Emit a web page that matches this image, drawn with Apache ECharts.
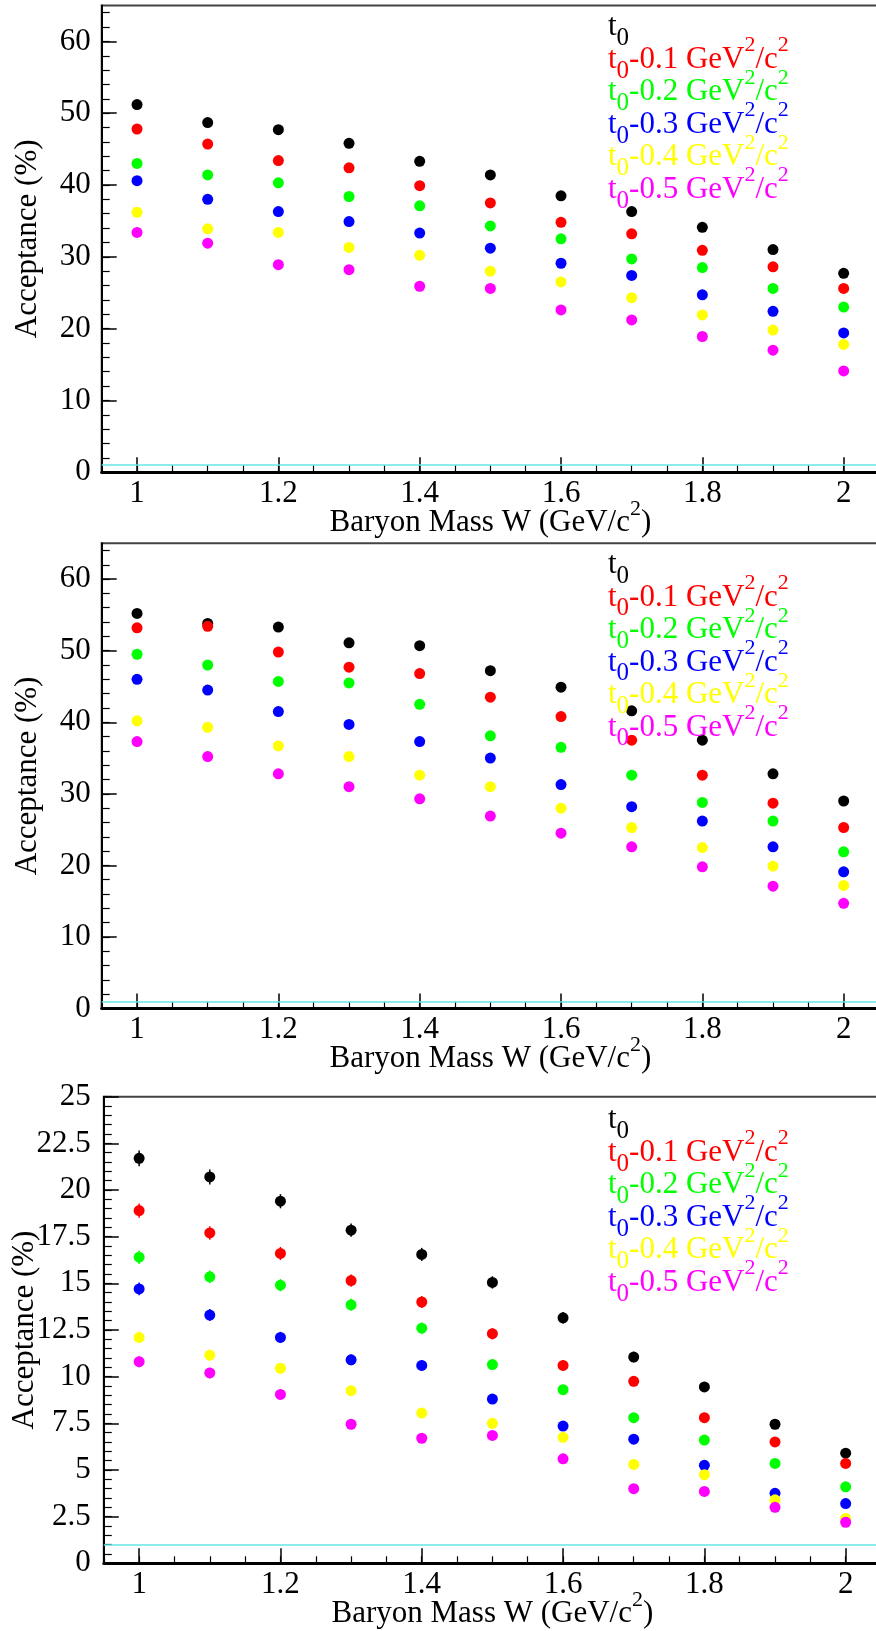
<!DOCTYPE html>
<html>
<head>
<meta charset="utf-8">
<script src="https://cdn.jsdelivr.net/npm/echarts@6/dist/echarts.min.js"></script>
<style>
  html, body { margin: 0; padding: 0; background: #ffffff; }
  .panel { position: absolute; left: 0; width: 876px; }
</style>
</head>
<body>
<div id="p1" class="panel" style="top:0px;height:560px"></div>
<div id="p2" class="panel" style="top:520px;height:580px"></div>
<div id="p3" class="panel" style="top:1060px;height:571px"></div>
<script>
// Baryon mass W bins (GeV/c^2)
const W = [1.0, 1.1, 1.2, 1.3, 1.4, 1.5, 1.6, 1.7, 1.8, 1.9, 2.0];

// t-shift of each series (GeV^2/c^2); null = t0 itself
const tShift = [null, '0.1', '0.2', '0.3', '0.4', '0.5'];
const seriesNames = ['t0', 't0-0.1', 't0-0.2', 't0-0.3', 't0-0.4', 't0-0.5'];
const seriesColors = ['#000000', '#ff0000', '#00ff00', '#0000ff', '#ffff00', '#ff00ff'];

// Axis tick labels
const xTickValues = [1, 1.2, 1.4, 1.6, 1.8, 2];
const yTickValuesTop = [0, 10, 20, 30, 40, 50, 60];
const yTickValuesBottom = [0, 2.5, 5, 7.5, 10, 12.5, 15, 17.5, 20, 22.5, 25];

// Reference level drawn as a horizontal line (%)
const referenceLevel = 1;

// Panel 1: acceptance (%)
const accA_t0  = [51.2, 48.7, 47.7, 45.8, 43.3, 41.4, 38.5, 36.3, 34.1, 31.0, 27.7];
const accA_t01 = [47.8, 45.7, 43.4, 42.4, 39.9, 37.5, 34.8, 33.2, 30.9, 28.6, 25.6];
const accA_t02 = [43.0, 41.4, 40.3, 38.4, 37.1, 34.3, 32.5, 29.7, 28.5, 25.6, 23.0];
const accA_t03 = [40.6, 38.0, 36.3, 34.9, 33.3, 31.2, 29.1, 27.4, 24.7, 22.4, 19.4];
const accA_t04 = [36.2, 33.9, 33.4, 31.3, 30.2, 28.0, 26.5, 24.3, 21.9, 19.8, 17.8];
const accA_t05 = [33.4, 31.9, 28.9, 28.2, 25.9, 25.6, 22.6, 21.2, 18.9, 17.0, 14.1];

// Panel 2: acceptance (%)
const accB_t0  = [55.2, 53.8, 53.3, 51.1, 50.7, 47.2, 44.9, 41.6, 37.5, 32.8, 29.0];
const accB_t01 = [53.2, 53.4, 49.8, 47.7, 46.8, 43.5, 40.8, 37.5, 32.6, 28.7, 25.3];
const accB_t02 = [49.5, 48.0, 45.7, 45.5, 42.5, 38.1, 36.5, 32.6, 28.8, 26.2, 21.9];
const accB_t03 = [46.0, 44.5, 41.5, 39.7, 37.3, 35.0, 31.3, 28.2, 26.2, 22.6, 19.1];
const accB_t04 = [40.2, 39.3, 36.7, 35.2, 32.6, 31.0, 28.0, 25.3, 22.5, 19.9, 17.2];
const accB_t05 = [37.3, 35.2, 32.8, 31.0, 29.3, 26.9, 24.5, 22.6, 19.8, 17.1, 14.7];

// Panel 3: acceptance (%) and its uncertainty
const accC_t0  = [21.7, 20.7, 19.4, 17.85, 16.55, 15.05, 13.15, 11.05, 9.45, 7.45, 5.9];
const accC_t01 = [18.9, 17.7, 16.6, 15.15, 14.0, 12.3, 10.6, 9.75, 7.8, 6.5, 5.35];
const accC_t02 = [16.4, 15.35, 14.9, 13.85, 12.6, 10.65, 9.3, 7.8, 6.6, 5.35, 4.1];
const accC_t03 = [14.7, 13.3, 12.1, 10.9, 10.6, 8.8, 7.35, 6.65, 5.25, 3.75, 3.2];
const accC_t04 = [12.1, 11.15, 10.45, 9.25, 8.05, 7.5, 6.75, 5.3, 4.75, 3.4, 2.4];
const accC_t05 = [10.8, 10.2, 9.05, 7.45, 6.7, 6.85, 5.6, 4.0, 3.85, 3.0, 2.2];

const errC_t0  = [0.42, 0.40, 0.38, 0.36, 0.35, 0.33, 0.31, 0.28, 0.26, 0.24, 0.22];
const errC_t01 = [0.38, 0.36, 0.35, 0.33, 0.32, 0.30, 0.28, 0.27, 0.24, 0.22, 0.21];
const errC_t02 = [0.36, 0.34, 0.33, 0.32, 0.30, 0.28, 0.27, 0.24, 0.22, 0.20, 0.18];
const errC_t03 = [0.34, 0.32, 0.30, 0.29, 0.28, 0.26, 0.24, 0.23, 0.20, 0.17, 0.16];
const errC_t04 = [0.31, 0.30, 0.29, 0.27, 0.25, 0.24, 0.23, 0.20, 0.19, 0.16, 0.14];
const errC_t05 = [0.29, 0.28, 0.27, 0.24, 0.23, 0.23, 0.21, 0.18, 0.17, 0.15, 0.13];

const FONT = 'Liberation Serif';
const FS = 31;
const LEGEND_STEP = 32.5;

// evenly spaced minor tick positions
function steps(lo, hi, step) {
  const out = [];
  for (let k = 0; lo + k * step <= hi + 1e-9; k++) out.push(+(lo + k * step).toFixed(4));
  return out;
}

// rich-text legend entry: t with subscript 0, optional "-x GeV^2/c^2".
// The bare t0 entry carries an empty superscript slot so every entry has the same box.
function legendText(shift) {
  let s = '{t|t}{s|0}';
  if (shift) s += '{t|-' + shift + ' GeV}{p|2}{t|/c}{p|2}';
  else s += '{p| }';
  return s;
}

// subscript sits at the bottom of the line box, superscript at the top
const richStyles = {
  t: { fontFamily: FONT, fontSize: FS, lineHeight: 32.5 },
  s: { fontFamily: FONT, fontSize: 25, lineHeight: 10, height: 10, verticalAlign: 'bottom' },
  p: { fontFamily: FONT, fontSize: 22, lineHeight: 4, height: 4, verticalAlign: 'top' }
};

function buildOption(cfg) {
  const xMin = 0.95, xMax = 2.05;
  const series = [];
  cfg.values.forEach((vals, i) => {
    if (cfg.errors) {
      const errs = cfg.errors[i];
      const col = seriesColors[i];
      series.push({
        type: 'custom',
        name: seriesNames[i] + ' err',
        silent: true,
        z: 2,
        xAxisIndex: 0, yAxisIndex: 0,
        data: W.map((w, k) => [w, vals[k], errs[k]]),
        renderItem: function (params, api) {
          const x = api.value(0), y = api.value(1), e = api.value(2);
          const a = api.coord([x, y - e]);
          const b = api.coord([x, y + e]);
          return {
            type: 'line',
            shape: { x1: a[0], y1: a[1], x2: b[0], y2: b[1] },
            style: { stroke: col, lineWidth: 1.5 }
          };
        }
      });
    }
    const s = {
      type: 'scatter',
      name: seriesNames[i],
      xAxisIndex: 0, yAxisIndex: 0,
      symbol: 'circle',
      symbolSize: 11,
      z: 3,
      itemStyle: { color: seriesColors[i], opacity: 1 },
      data: W.map((w, k) => [w, vals[k]])
    };
    if (i === 0) {
      s.markLine = {
        silent: true,
        symbol: 'none',
        label: { show: false },
        lineStyle: { color: '#66e4e4', width: 1.6, type: 'solid' },
        data: [{ yAxis: referenceLevel }]
      };
    }
    series.push(s);
  });

  const axisText = { fontFamily: FONT, fontSize: FS, color: '#000' };

  // one single-entry legend per line keeps the line pitch fixed
  const legends = seriesNames.map((n, i) => ({
    orient: 'vertical',
    left: 603,
    top: cfg.legendTop + i * LEGEND_STEP,
    itemGap: 0,
    itemWidth: 0,
    itemHeight: 0,
    icon: 'none',
    selectedMode: false,
    padding: 0,
    textStyle: { fontFamily: FONT, fontSize: FS, rich: richStyles },
    formatter: function (name) { return legendText(tShift[seriesNames.indexOf(name)]); },
    data: [{ name: n, textStyle: { color: seriesColors[i] } }]
  }));

  return {
    animation: false,
    backgroundColor: 'transparent',
    grid: {
      left: cfg.grid.left, right: cfg.grid.right, top: cfg.grid.top, bottom: cfg.grid.bottom,
      outerBoundsMode: 'none',
      containLabel: false,
      show: true, borderColor: '#444', borderWidth: 2, backgroundColor: 'transparent'
    },
    legend: legends,
    xAxis: [
      {
        type: 'value', min: xMin, max: xMax, position: 'bottom',
        name: 'Baryon Mass W (GeV/c{p|2})',
        nameLocation: 'middle', nameGap: cfg.xNameGap, nameMoveOverlap: false,
        nameTextStyle: { fontFamily: FONT, fontSize: FS, color: '#000',
          rich: { p: { fontFamily: FONT, fontSize: 22, lineHeight: 4, height: 4, verticalAlign: 'top', color: '#000' } } },
        axisLine: { show: true, onZero: false, lineStyle: { color: '#000', width: 3 } },
        axisTick: { show: true, inside: true, length: 15, customValues: xTickValues, lineStyle: { color: '#000', width: 1.5 } },
        axisLabel: Object.assign({ show: true, margin: cfg.xLabelMargin, customValues: xTickValues }, axisText),
        splitLine: { show: false }
      },
      {
        type: 'value', min: xMin, max: xMax, position: 'bottom',
        axisLine: { show: false },
        axisTick: { show: true, inside: true, length: 7, customValues: steps(xMin, xMax, 0.05), lineStyle: { color: '#000', width: 1.2 } },
        axisLabel: { show: false },
        splitLine: { show: false }
      }
    ],
    yAxis: [
      {
        type: 'value', min: 0, max: cfg.yMax, position: 'left',
        name: 'Acceptance (%)',
        nameLocation: 'middle', nameRotate: 90, nameGap: cfg.yNameGap, nameMoveOverlap: false,
        nameTextStyle: { fontFamily: FONT, fontSize: FS, color: '#000' },
        axisLine: { show: true, onZero: false, lineStyle: { color: '#000', width: 2 } },
        axisTick: { show: true, inside: true, length: 15, customValues: cfg.yTicks, lineStyle: { color: '#000', width: 1.5 } },
        axisLabel: Object.assign({ show: true, margin: cfg.yLabelMargin, customValues: cfg.yTicks }, axisText),
        splitLine: { show: false }
      },
      {
        type: 'value', min: 0, max: cfg.yMax, position: 'left',
        axisLine: { show: false },
        axisTick: { show: true, inside: true, length: 8, customValues: steps(0, cfg.yMax, cfg.yMinor), lineStyle: { color: '#000', width: 1.2 } },
        axisLabel: { show: false },
        splitLine: { show: false }
      }
    ],
    series: series
  };
}

const panels = [
  {
    el: 'p1',
    values: [accA_t0, accA_t01, accA_t02, accA_t03, accA_t04, accA_t05],
    yMax: 65, yTicks: yTickValuesTop, yMinor: 2, yLabelMargin: 11, yNameGap: 58,
    xLabelMargin: 6, xNameGap: 35,
    grid: { left: 101.7, right: -3, top: 5.5, bottom: 87.8 },
    legendTop: 2
  },
  {
    el: 'p2',
    values: [accB_t0, accB_t01, accB_t02, accB_t03, accB_t04, accB_t05],
    yMax: 65, yTicks: yTickValuesTop, yMinor: 2, yLabelMargin: 11, yNameGap: 58,
    xLabelMargin: 6, xNameGap: 35,
    grid: { left: 101.7, right: -3, top: 23.3, bottom: 91.4 },
    legendTop: 19.8
  },
  {
    el: 'p3',
    values: [accC_t0, accC_t01, accC_t02, accC_t03, accC_t04, accC_t05],
    errors: [errC_t0, errC_t01, errC_t02, errC_t03, errC_t04, errC_t05],
    yMax: 25, yTicks: yTickValuesBottom, yMinor: 0.5, yLabelMargin: 13, yNameGap: 63,
    xLabelMargin: 6, xNameGap: 35,
    grid: { left: 103.8, right: -5, top: 36.7, bottom: 67.7 },
    legendTop: 35
  }
];

panels.forEach(cfg => {
  const chart = echarts.init(document.getElementById(cfg.el), null, { renderer: 'canvas' });
  chart.setOption(buildOption(cfg));
});
</script>
</body>
</html>
